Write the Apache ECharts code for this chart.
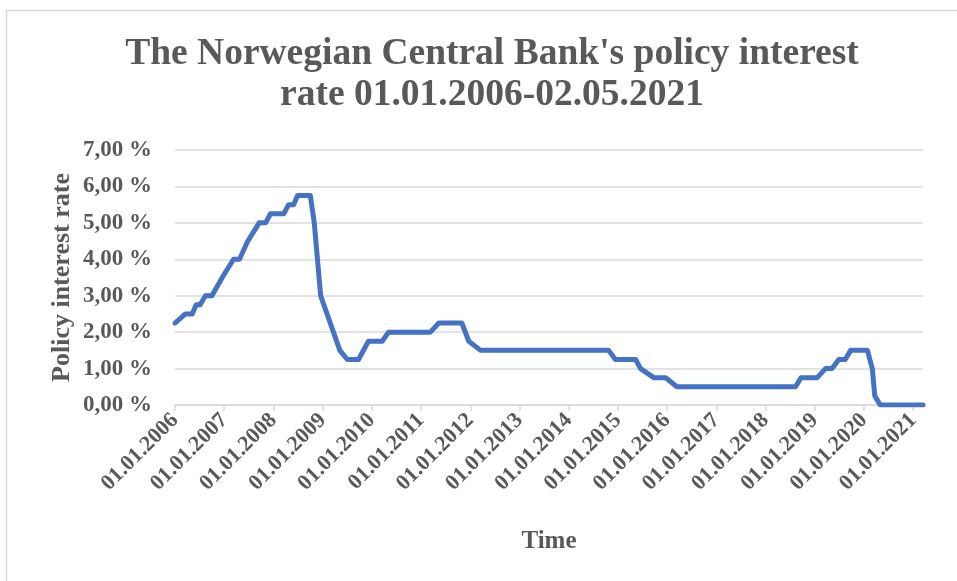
<!DOCTYPE html>
<html>

<head>
  <title>Policy interest rate</title>
  <style>
    html, body { margin: 0; padding: 0; background: #fff; }
    #chart { width: 957px; height: 581px; }
  </style>
</head>

<body>
  <div id="chart"></div>
</body>
<script src="https://cdn.jsdelivr.net/npm/echarts@6/dist/echarts.min.js"></script>
<script>
  // time as decimal years
  const rate_time = [
    2006.00, 2006.04, 2006.21, 2006.35, 2006.43, 2006.51, 2006.62, 2006.75, 2006.96, 2007.19,
    2007.31, 2007.48, 2007.71, 2007.84, 2007.94, 2008.21, 2008.31, 2008.41, 2008.49, 2008.75,
    2008.83, 2008.96, 2009.22, 2009.35, 2009.50, 2009.73, 2009.93, 2010.21, 2010.34, 2011.19,
    2011.36, 2011.83, 2011.97, 2012.21, 2014.81, 2014.95, 2015.36, 2015.46, 2015.73, 2015.97,
    2016.20, 2018.61, 2018.72, 2019.05, 2019.22, 2019.35, 2019.49, 2019.62, 2019.73, 2020.07,
    2020.17, 2020.22, 2020.33, 2021.20
  ]
  const rate_values = [
    2.25, 2.25, 2.50, 2.50, 2.75, 2.75, 3.00, 3.00, 3.50, 4.00,
    4.00, 4.50, 5.00, 5.00, 5.25, 5.25, 5.50, 5.50, 5.75, 5.75,
    5.00, 3.00, 2.00, 1.50, 1.25, 1.25, 1.75, 1.75, 2.00, 2.00,
    2.25, 2.25, 1.75, 1.50, 1.50, 1.25, 1.25, 1.00, 0.75, 0.75,
    0.50, 0.50, 0.75, 0.75, 1.00, 1.00, 1.25, 1.25, 1.50, 1.50,
    1.00, 0.25, 0.00, 0.00
  ]
  const year_ticks = [2006, 2007, 2008, 2009, 2010, 2011, 2012, 2013, 2014, 2015, 2016, 2017, 2018, 2019, 2020, 2021]

  let textColor = '#595959'
  let gridColor = '#d9d9d9'
  let serif = "'Liberation Serif', 'Times New Roman', serif"

  let chart = echarts.init(document.getElementById('chart'))

  let option = {
    animation: false,
    graphic: [
      {
        type: 'rect',
        shape: { x: 6.5, y: 10.5, width: 1000, height: 1000 },
        style: { fill: 'none', stroke: gridColor, lineWidth: 1.5 },
        silent: true,
      },
    ],
    title: {
      text: "The Norwegian Central Bank's policy interest\nrate 01.01.2006-02.05.2021",
      left: 487,
      textAlign: 'center',
      top: 29,
      textStyle: {
        color: textColor,
        fontFamily: serif,
        fontWeight: 'bold',
        fontSize: 37.5,
        lineHeight: 41,
      },
    },
    grid: {
      left: 175,
      right: 34,
      top: 150,
      bottom: 176,
    },
    xAxis: {
      type: 'value',
      min: 2006,
      max: 2021.2,
      name: 'Time',
      nameLocation: 'middle',
      nameGap: 117,
      nameMoveOverlap: false,
      nameTextStyle: {
        color: textColor,
        fontFamily: serif,
        fontWeight: 'bold',
        fontSize: 25,
      },
      splitLine: { show: false },
      axisLine: { show: true, lineStyle: { color: gridColor, width: 1.5 } },
      axisTick: {
        show: true,
        length: 6,
        customValues: year_ticks,
        lineStyle: { color: gridColor, width: 1.5 },
      },
      axisLabel: {
        customValues: year_ticks,
        rotate: 45,
        margin: 12,
        color: textColor,
        fontFamily: serif,
        fontWeight: 'bold',
        fontSize: 22,
        formatter: (v) => '01.01.' + v,
      },
    },
    yAxis: {
      type: 'value',
      min: 0,
      max: 7,
      interval: 1,
      name: 'Policy interest rate',
      nameLocation: 'middle',
      nameGap: 92,
      nameMoveOverlap: false,
      nameTextStyle: {
        color: textColor,
        fontFamily: serif,
        fontWeight: 'bold',
        fontSize: 26,
      },
      axisLine: { show: false },
      axisTick: { show: false },
      splitLine: { lineStyle: { color: gridColor, width: 1.5 } },
      axisLabel: {
        margin: 23,
        color: textColor,
        fontFamily: serif,
        fontWeight: 'bold',
        fontSize: 23,
        formatter: (v) => v.toFixed(2).replace('.', ',') + ' %',
      },
    },
    series: [
      {
        name: 'Policy interest rate',
        type: 'line',
        showSymbol: false,
        lineStyle: { color: '#4472C4', width: 5, cap: 'round', join: 'round' },
        data: rate_time.map((t, i) => [t, rate_values[i]]),
      },
    ],
  }

  chart.setOption(option)
</script>

</html>
